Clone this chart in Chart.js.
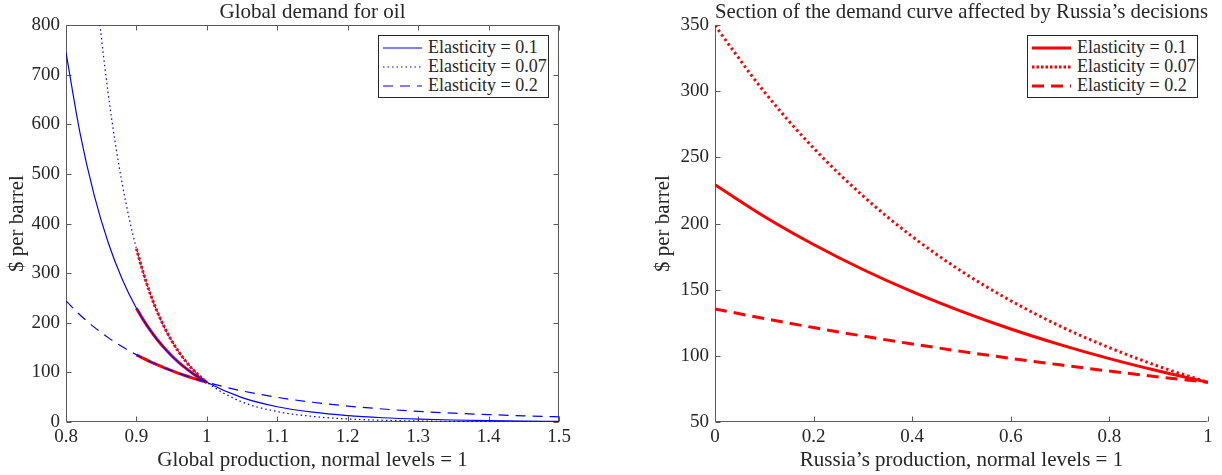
<!DOCTYPE html>
<html>
<head>
<meta charset="utf-8">
<script src="https://cdn.jsdelivr.net/npm/chart.js@4.4.1/dist/chart.umd.min.js"></script>
<style>
  body { margin: 0; background: #fff; }
  #wrap { position: relative; width: 1222px; height: 475px; }
  canvas { position: absolute; top: 0; }
  .legend { position: absolute; top: 35px; width: 171px; height: 63px; box-sizing: border-box;
            border: 1px solid #262626; background: #fff; padding: 2px 0 0 4px;
            font: 18px 'Liberation Serif', serif; color: #262626; }
  .legend .row { display: flex; align-items: center; height: 19px; white-space: nowrap; }
  .legend svg { margin-right: 6px; flex: none; }
</style>
</head>
<body>
<div id="wrap">
  <canvas id="leftChart" width="611" height="475" style="left:0"></canvas>
  <canvas id="rightChart" width="611" height="475" style="left:611px"></canvas>
  <div class="legend" id="leftLegend" style="left:378px"></div>
  <div class="legend" id="rightLegend" style="left:1027px"></div>
</div>
<script>
// global production (normal = 1) and $/barrel for each elasticity
const globalX = [0.80, 0.82, 0.84, 0.86, 0.88, 0.90, 0.92, 0.94, 0.96, 0.98, 1.00, 1.05, 1.10, 1.15, 1.20, 1.25, 1.30, 1.35, 1.40, 1.45, 1.50];
const blue01 = [745.1, 582.0, 457.4, 361.5, 287.2, 229.4, 184.2, 148.5, 120.3, 97.9, 80, 49.1, 30.8, 19.8, 12.9, 8.6, 5.8, 4.0, 2.8, 1.9, 1.4];
const blue02 = [244.1, 215.8, 191.3, 170.1, 151.6, 135.5, 121.4, 109.0, 98.1, 88.5, 80, 62.7, 49.7, 39.8, 32.2, 26.2, 21.5, 17.8, 14.9, 12.5, 10.5];
const globalXDotted = [0.84, 0.85, 0.86, 0.87, 0.88, 0.89, 0.90, 0.92, 0.94, 0.96, 0.98, 1.00, 1.05, 1.10, 1.15, 1.20, 1.25, 1.30, 1.35, 1.40, 1.45, 1.50];
const blue007 = [918.7, 778.4, 660.8, 562.1, 479.0, 408.9, 349.7, 257.1, 190.2, 141.7, 106.2, 80, 40.4, 21.1, 11.3, 6.2, 3.5, 2.0, 1.2, 0.7, 0.4, 0.3];

// section of the curve that Russia controls
const sectionGlobalX = [0.90, 0.91, 0.92, 0.93, 0.94, 0.95, 0.96, 0.97, 0.98, 0.99, 1.00];
const russiaX = [0, 0.1, 0.2, 0.3, 0.4, 0.5, 0.6, 0.7, 0.8, 0.9, 1];
const red01 = [229.4, 205.4, 184.2, 165.3, 148.5, 133.6, 120.3, 108.5, 97.9, 88.5, 80];
const red007 = [349.7, 299.6, 257.1, 221.0, 190.2, 164.0, 141.7, 122.5, 106.2, 92.1, 80];
const red02 = [135.5, 128.2, 121.4, 115.0, 109.0, 103.4, 98.1, 93.2, 88.5, 84.1, 80];

const legendLabels = ['Elasticity = 0.1', 'Elasticity = 0.07', 'Elasticity = 0.2'];
const leftXTicks = [0.8, 0.9, 1, 1.1, 1.2, 1.3, 1.4, 1.5];
const leftYTicks = [0, 100, 200, 300, 400, 500, 600, 700, 800];
const rightXTicks = [0, 0.2, 0.4, 0.6, 0.8, 1];
const rightYTicks = [50, 100, 150, 200, 250, 300, 350];

const BLUE = '#0000ff', RED = '#ff0000', INK = '#262626';
Chart.defaults.font.family = "'Liberation Serif', serif";
Chart.defaults.color = INK;

const pts = (xs, ys) => xs.map((x, i) => ({ x, y: ys[i] }));
const line = (label, xs, ys, color, width, dash) => ({
    label, data: pts(xs, ys), borderColor: color, borderWidth: width, borderDash: dash,
    pointRadius: 0, fill: false, cubicInterpolationMode: 'monotone'
});
const fmt = v => String(+(+v).toFixed(2));

// axis lines + inward ticks, matlab style
const frame = {
    id: 'frame',
    beforeDatasetsDraw(chart, args, opts) {
        const { ctx, chartArea: { left, right, top, bottom }, scales: { x, y } } = chart;
        const L = Math.round(left) + 0.5, R = Math.round(right) - 0.5, T = Math.round(top) + 0.5, B = Math.round(bottom) - 0.5;
        ctx.save();
        ctx.strokeStyle = '#5a5a5a';
        ctx.lineWidth = 1;
        ctx.beginPath();
        ctx.moveTo(L, T); ctx.lineTo(L, B); ctx.lineTo(R, B);
        if (opts.box) { ctx.moveTo(L, T); ctx.lineTo(R, T); ctx.lineTo(R, B); }
        x.ticks.forEach(t => {
            const px = Math.round(x.getPixelForValue(t.value)) + 0.5;
            ctx.moveTo(px, B); ctx.lineTo(px, B - 5);
            if (opts.box) { ctx.moveTo(px, T); ctx.lineTo(px, T + 5); }
        });
        y.ticks.forEach(t => {
            const py = Math.round(y.getPixelForValue(t.value)) + 0.5;
            ctx.moveTo(L, py); ctx.lineTo(L + 5, py);
            if (opts.box) { ctx.moveTo(R, py); ctx.lineTo(R - 5, py); }
        });
        ctx.stroke();
        ctx.restore();
    }
};

function axes(xMin, xMax, xTicks, yMin, yMax, yTicks, xTitle, yWidth) {
    return {
        x: {
            type: 'linear', min: xMin, max: xMax,
            afterBuildTicks: s => { s.ticks = xTicks.map(v => ({ value: v })); },
            afterFit: s => { s.height = 53; },
            grid: { display: false, drawTicks: false }, border: { display: false },
            ticks: { font: { size: 19 }, padding: 4, maxRotation: 0, callback: fmt },
            title: { display: true, text: xTitle, font: { size: 21, lineHeight: 1.2 }, padding: { top: 0, bottom: 1.5 } }
        },
        y: {
            type: 'linear', min: yMin, max: yMax,
            afterBuildTicks: s => { s.ticks = yTicks.map(v => ({ value: v })); },
            afterFit: s => { s.width = yWidth; },
            grid: { display: false, drawTicks: false }, border: { display: false },
            ticks: { font: { size: 19 }, padding: 6, callback: fmt },
            title: { display: true, text: '$ per barrel', font: { size: 21, lineHeight: 1.2 }, padding: { top: 5, bottom: 0 } }
        }
    };
}

function titleOpts(text) {
    return { display: true, text, fullSize: false, color: INK,
             font: { size: 21, weight: 'normal', lineHeight: 1.2 }, padding: { top: 0, bottom: 0 } };
}

new Chart(document.getElementById('leftChart'), {
    type: 'line',
    data: {
        datasets: [
            line(legendLabels[0], globalX, blue01, BLUE, 1.2, []),
            line(legendLabels[1], globalXDotted, blue007, BLUE, 1.2, [1.5, 3]),
            line(legendLabels[2], globalX, blue02, BLUE, 1.2, [10, 7]),
            line('section 0.1', sectionGlobalX, red01, RED, 3, []),
            line('section 0.07', sectionGlobalX, red007, RED, 3, [2.5, 2]),
            line('section 0.2', sectionGlobalX, red02, RED, 3, [])
        ]
    },
    options: {
        responsive: false, animation: false, devicePixelRatio: 1,
        layout: { padding: { left: 0, right: 52, top: 0, bottom: 0 } },
        scales: axes(0.8, 1.5, leftXTicks, 0, 800, leftYTicks, 'Global production, normal levels = 1', 66),
        plugins: { legend: { display: false }, tooltip: { enabled: false },
                   title: titleOpts('Global demand for oil'), frame: { box: true } }
    },
    plugins: [frame]
});

new Chart(document.getElementById('rightChart'), {
    type: 'line',
    data: {
        datasets: [
            line(legendLabels[0], russiaX, red01, RED, 3, []),
            line(legendLabels[1], russiaX, red007, RED, 3, [2.5, 3]),
            line(legendLabels[2], russiaX, red02, RED, 3, [12, 7])
        ]
    },
    options: {
        responsive: false, animation: false, devicePixelRatio: 1,
        layout: { padding: { left: 35, right: 14, top: 0, bottom: 0 } },
        scales: axes(0, 1, rightXTicks, 50, 350, rightYTicks, 'Russia’s production, normal levels = 1', 69),
        plugins: { legend: { display: false }, tooltip: { enabled: false },
                   title: titleOpts('Section of the demand curve affected by Russia’s decisions'), frame: { box: false } }
    },
    plugins: [frame]
});

// legends: short line sample + label
function buildLegend(el, color, width, dashes) {
    el.innerHTML = legendLabels.map((lab, i) =>
        `<div class="row"><svg width="39" height="10"><line x1="0" y1="5" x2="39" y2="5" stroke="${color}" stroke-width="${width}" stroke-dasharray="${dashes[i]}"/></svg><span>${lab}</span></div>`
    ).join('');
}
buildLegend(document.getElementById('leftLegend'), BLUE, 1.2, ['none', '1.5 3', '10 7']);
buildLegend(document.getElementById('rightLegend'), RED, 3, ['none', '2.5 2', '12 7']);
</script>
</body>
</html>
